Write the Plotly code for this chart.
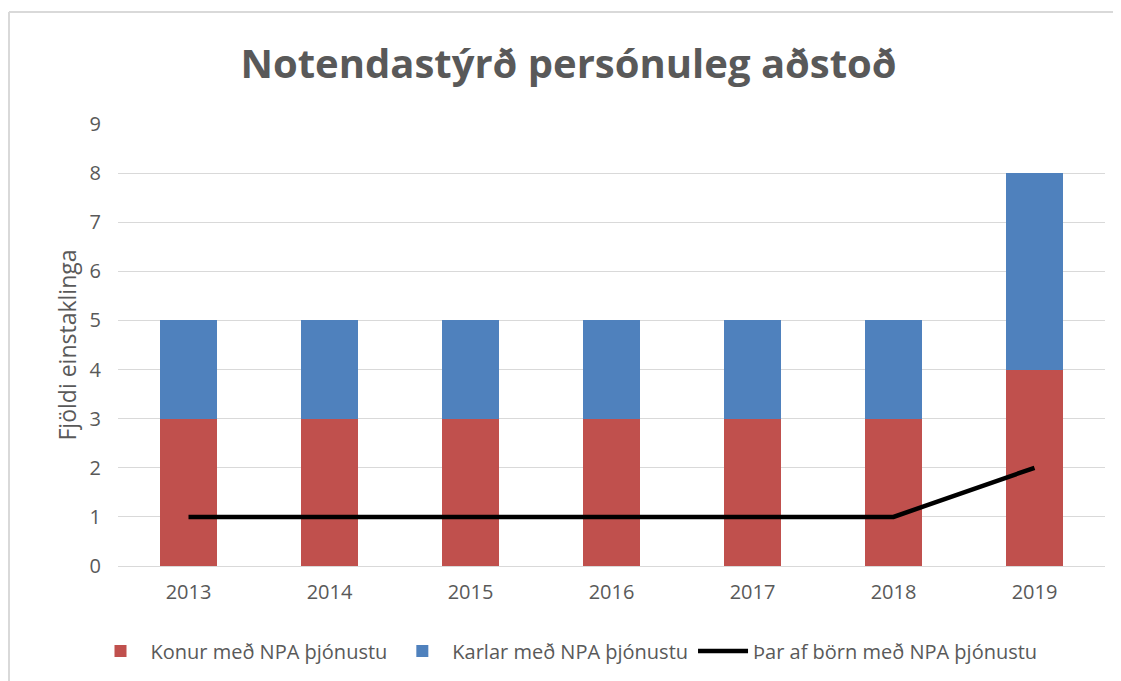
import plotly.graph_objects as go

years = ["2013", "2014", "2015", "2016", "2017", "2018", "2019"]
konur = [3, 3, 3, 3, 3, 3, 4]
karlar = [2, 2, 2, 2, 2, 2, 4]
born = [1, 1, 1, 1, 1, 1, 2]

FONT = "Open Sans"
GRAY = "#595959"

# page body has an 8px margin; figure coordinates are offset accordingly
L, R, T, B = 110, 24, 116, 123
PW, PH = 1121 - L - R, 681 - T - B

fig = go.Figure()
fig.add_bar(x=years, y=konur, name="Konur með NPA þjónustu", marker_color="#C0504D",
            marker_line_width=0)
fig.add_bar(x=years, y=karlar, name="Karlar með NPA þjónustu", marker_color="#4F81BD",
            marker_line_width=0)
fig.add_scatter(x=years, y=born, name="Þar af börn með NPA þjónustu", mode="lines",
                line=dict(color="black", width=4.5))

fy = 1 + (T - 4) / PH
fx = (1 - L) / PW
fig.update_layout(
    width=1121, height=681,
    barmode="stack", bargap=0.6,
    plot_bgcolor="white", paper_bgcolor="white",
    margin=dict(l=L, r=R, t=T, b=B),
    title=dict(text="<b>Notendastýrð persónuleg aðstoð</b>", x=0.5, xanchor="center",
               y=1 - 56 / 681, yanchor="middle",
               font=dict(family=FONT, size=40, color=GRAY)),
    font=dict(family=FONT, color=GRAY, size=18),
    showlegend=True,
    legend=dict(orientation="h", x=0.5 - 45 / PW, xanchor="center", y=(558 - 643) / PH,
                yanchor="middle", font=dict(size=20, color=GRAY), traceorder="normal",
                itemwidth=50),
    shapes=[
        dict(type="line", xref="paper", yref="paper", x0=fx, x1=(1121 - L) / PW,
             y0=fy, y1=fy, line=dict(color="#D9D9D9", width=2)),
        dict(type="line", xref="paper", yref="paper", x0=fx, x1=fx,
             y0=fy, y1=-B / PH, line=dict(color="#D9D9D9", width=2)),
    ],
)
fig.update_xaxes(showgrid=False, showline=False, ticks="", ticklabelstandoff=12,
                 tickfont=dict(size=20, color=GRAY))
fig.update_yaxes(range=[0, 9], dtick=1, showgrid=True, gridcolor="#D9D9D9", gridwidth=1,
                 zeroline=True, zerolinecolor="#D9D9D9", zerolinewidth=1,
                 ticks="", ticklabelstandoff=16, tickfont=dict(size=20, color=GRAY),
                 title=dict(text="Fjöldi einstaklinga", font=dict(size=23, color=GRAY), standoff=6))

fig.write_html("out.html")
